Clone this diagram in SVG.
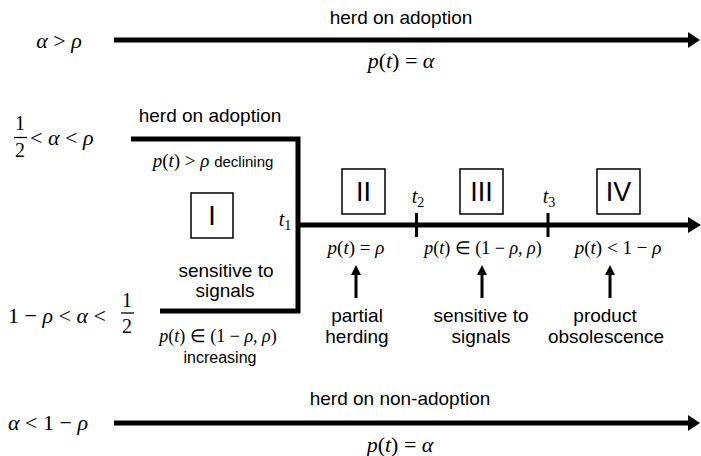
<svg xmlns="http://www.w3.org/2000/svg" width="701" height="456" viewBox="0 0 701 456">
<style>
.s{font-family:"Liberation Sans",Arial,sans-serif;font-size:19px;fill:#000}
.ss{font-family:"Liberation Sans",Arial,sans-serif;font-size:15px;fill:#000}
.m{font-family:"Liberation Serif","Times New Roman",serif;font-size:19px;fill:#000}
.me{font-family:"Liberation Serif","Times New Roman",serif;font-size:18px;fill:#000}
.mb{font-family:"Liberation Serif","Times New Roman",serif;font-size:22px;fill:#000}
.fr{font-family:"Liberation Serif","Times New Roman",serif;font-size:20px;fill:#000}
.i{font-style:italic}
.box{fill:#fff;stroke:#000;stroke-width:1.5}
.rn{font-family:"Liberation Sans",Arial,sans-serif;font-size:27px;fill:#000}
.thick{stroke:#000;stroke-width:5;fill:none}
.tick{stroke:#000;stroke-width:3}
.thin{stroke:#000;stroke-width:3}
</style>
<rect width="701" height="456" fill="#fff"/>
<g id="connectors">
  <line class="thick" x1="114" y1="40" x2="690" y2="40"/>
  <polygon points="688,32 700,40 688,48"/>
  <polyline class="thick" points="131,139 298,139 298,311 160,311"/>
  <line class="thick" x1="298" y1="225" x2="690" y2="225"/>
  <polygon points="688,217 701,225 688,233"/>
  <line class="tick" x1="416.5" y1="213" x2="416.5" y2="237"/>
  <line class="tick" x1="548" y1="213" x2="548" y2="237"/>
  <line class="thick" x1="114" y1="423" x2="690" y2="423"/>
  <polygon points="688,415 700,423 688,431"/>
  <line class="thin" x1="356" y1="273" x2="356" y2="298"/>
  <polygon points="351,275 356,265 361,275"/>
  <line class="thin" x1="482" y1="273" x2="482" y2="298"/>
  <polygon points="477,275 482,265 487,275"/>
  <line class="thin" x1="610" y1="273" x2="610" y2="298"/>
  <polygon points="605,275 610,265 615,275"/>
</g>
<g id="row-top">
  <text class="mb" x="59" y="48" text-anchor="middle"><tspan class="i">α</tspan> &gt; <tspan class="i">ρ</tspan></text>
  <text class="s" x="401" y="24" text-anchor="middle">herd on adoption</text>
  <text class="mb" x="401" y="68" text-anchor="middle"><tspan class="i">p</tspan>(<tspan class="i">t</tspan>) = <tspan class="i">α</tspan></text>
</g>
<g id="row-upper">
  <text class="fr" x="20" y="130" text-anchor="middle">1</text>
  <line x1="14" y1="137.5" x2="27" y2="137.5" stroke="#000" stroke-width="1.3"/>
  <text class="fr" x="20" y="157" text-anchor="middle">2</text>
  <text class="mb" x="30" y="145"> &lt; <tspan class="i">α</tspan> &lt; <tspan class="i">ρ</tspan></text>
  <text class="s" x="210" y="122" text-anchor="middle">herd on adoption</text>
  <text x="213" y="167" text-anchor="middle"><tspan class="m"><tspan class="i">p</tspan>(<tspan class="i">t</tspan>) &gt; <tspan class="i">ρ</tspan> </tspan><tspan class="ss">declining</tspan></text>
</g>
<g id="row-lower">
  <text class="mb" x="8" y="323">1 − <tspan class="i">ρ</tspan> &lt; <tspan class="i">α</tspan> &lt;</text>
  <text class="fr" x="127" y="307" text-anchor="middle">1</text>
  <line x1="121" y1="313" x2="134" y2="313" stroke="#000" stroke-width="1.3"/>
  <text class="fr" x="127" y="333" text-anchor="middle">2</text>
  <text class="me" x="218" y="342" text-anchor="middle"><tspan class="i">p</tspan>(<tspan class="i">t</tspan>) ∈ (1 − <tspan class="i">ρ</tspan>, <tspan class="i">ρ</tspan>)</text>
  <text class="ss" x="220" y="363" text-anchor="middle" style="font-size:16px">increasing</text>
</g>
<g id="phase-I">
  <rect class="box" x="191" y="193" width="42" height="45"/>
  <text class="rn" x="212" y="225" text-anchor="middle">I</text>
  <text class="s" x="226" y="277" text-anchor="middle">sensitive to</text>
  <text class="s" x="225" y="297" text-anchor="middle">signals</text>
  <text class="m" x="285" y="226" text-anchor="middle" style="font-size:20px"><tspan class="i">t</tspan><tspan style="font-size:14px" dy="4">1</tspan></text>
</g>
<g id="phase-II">
  <rect class="box" x="342" y="169" width="43" height="45"/>
  <text class="rn" x="363.5" y="201" text-anchor="middle">II</text>
  <text class="m" x="356" y="254" text-anchor="middle"><tspan class="i">p</tspan>(<tspan class="i">t</tspan>) = <tspan class="i">ρ</tspan></text>
  <text class="s" x="357" y="322" text-anchor="middle">partial</text>
  <text class="s" x="357" y="343" text-anchor="middle">herding</text>
  <text class="m" x="418" y="203" text-anchor="middle" style="font-size:20px"><tspan class="i">t</tspan><tspan style="font-size:14px" dy="4">2</tspan></text>
</g>
<g id="phase-III">
  <rect class="box" x="460" y="169" width="43" height="45"/>
  <text class="rn" x="481.5" y="201" text-anchor="middle">III</text>
  <text class="me" x="483" y="254" text-anchor="middle"><tspan class="i">p</tspan>(<tspan class="i">t</tspan>) ∈ (1 − <tspan class="i">ρ</tspan>, <tspan class="i">ρ</tspan>)</text>
  <text class="s" x="481" y="322" text-anchor="middle">sensitive to</text>
  <text class="s" x="481" y="343" text-anchor="middle">signals</text>
  <text class="m" x="549" y="203" text-anchor="middle" style="font-size:20px"><tspan class="i">t</tspan><tspan style="font-size:14px" dy="4">3</tspan></text>
</g>
<g id="phase-IV">
  <rect class="box" x="597" y="169" width="43" height="45"/>
  <text class="rn" x="618.5" y="201" text-anchor="middle">IV</text>
  <text class="m" x="618" y="254" text-anchor="middle"><tspan class="i">p</tspan>(<tspan class="i">t</tspan>) &lt; 1 − <tspan class="i">ρ</tspan></text>
  <text class="s" x="605" y="322" text-anchor="middle">product</text>
  <text class="s" x="606" y="343" text-anchor="middle">obsolescence</text>
</g>
<g id="row-bottom">
  <text class="mb" x="48" y="430" text-anchor="middle"><tspan class="i">α</tspan> &lt; 1 − <tspan class="i">ρ</tspan></text>
  <text class="s" x="400" y="405" text-anchor="middle">herd on non-adoption</text>
  <text class="mb" x="400" y="452" text-anchor="middle"><tspan class="i">p</tspan>(<tspan class="i">t</tspan>) = <tspan class="i">α</tspan></text>
</g>
</svg>
